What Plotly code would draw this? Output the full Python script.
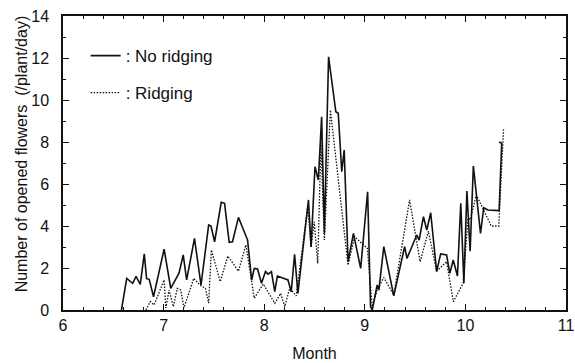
import plotly.graph_objects as go

# No ridging (solid) : month (decimal) and opened flowers per plant per day
noridge_x = [6.581, 6.633, 6.693, 6.726, 6.768, 6.808, 6.831, 6.857, 6.900, 7.005,
             7.071, 7.153, 7.195, 7.229, 7.307, 7.372, 7.448, 7.471, 7.507, 7.573,
             7.606, 7.652, 7.685, 7.744, 7.835, 7.875, 7.901, 7.934, 7.973, 8.013,
             8.039, 8.072, 8.105, 8.131, 8.236, 8.269, 8.302, 8.335, 8.440, 8.466,
             8.505, 8.538, 8.571, 8.598, 8.640, 8.712, 8.736, 8.771, 8.795, 8.834,
             8.887, 8.959, 9.028, 9.057, 9.074, 9.123, 9.140, 9.189, 9.288, 9.396,
             9.419, 9.517, 9.540, 9.583, 9.616, 9.655, 9.714, 9.754, 9.813, 9.845,
             9.879, 9.921, 9.954, 9.985, 10.015, 10.047, 10.079, 10.150, 10.182, 10.224,
             10.335, 10.361, 10.335]
noridge_y = [0.0, 1.5, 1.27, 1.6, 1.22, 2.67, 1.49, 1.46, 0.63, 2.9,
             1.03, 1.75, 2.62, 1.43, 3.41, 1.19, 4.05, 4.0, 3.25, 5.13,
             5.08, 3.22, 3.25, 4.41, 3.33, 1.43, 1.98, 1.95, 1.27, 1.83,
             1.71, 1.83, 0.87, 1.62, 1.43, 0.87, 2.65, 0.79, 5.24, 3.0,
             6.83, 6.19, 9.2, 3.65, 12.06, 9.44, 9.37, 6.59, 7.62, 2.3,
             3.65, 1.98, 5.63, 0.16, 0.0, 1.19, 0.95, 3.02, 0.67, 3.02,
             2.46, 3.57, 3.33, 4.44, 3.81, 4.63, 1.83, 2.67, 2.62, 1.75,
             2.38, 1.62, 5.08, 1.27, 5.67, 2.8, 6.86, 3.65, 4.87, 4.76,
             4.73, 7.94, 8.0]

# Ridging (dotted)
ridge_x = [6.825, 6.867, 6.906, 7.005, 7.022, 7.054, 7.097, 7.136, 7.170, 7.202,
           7.300, 7.360, 7.416, 7.448, 7.475, 7.563, 7.638, 7.744, 7.818, 7.901,
           7.990, 8.105, 8.164, 8.204, 8.253, 8.318, 8.433, 8.466, 8.497, 8.532,
           8.564, 8.598, 8.658, 8.833, 8.899, 9.025, 9.074, 9.123, 9.189, 9.288,
           9.445, 9.550, 9.632, 9.714, 9.813, 9.880, 9.977, 10.026, 10.049, 10.108,
           10.174, 10.256, 10.332, 10.379]
ridge_y = [0.0, 0.4, 0.24, 1.43, 0.1, 0.95, 0.16, 1.03, 0.95, 0.1,
           1.51, 1.19, 1.03, 0.33, 2.86, 1.35, 2.57, 1.85, 3.1, 0.56,
           1.24, 0.32, 0.79, 0.16, 1.03, 0.67, 4.92, 3.0, 4.2, 2.22,
           7.94, 3.33, 9.52, 2.14, 3.49, 2.94, 0.16, 0.95, 1.55, 0.71,
           5.24, 2.3, 3.75, 1.85, 2.3, 0.4, 1.27, 4.37, 4.3, 5.48,
           4.84, 4.0, 4.0, 8.6]

FONT = "Liberation Sans, Arial, sans-serif"
INK = "#111111"

fig = go.Figure()
fig.add_trace(go.Scatter(x=noridge_x, y=noridge_y, mode="lines", name=": No ridging",
                         legendgroup="a",
                         line=dict(color=INK, width=1.6)))
fig.add_trace(go.Scatter(x=ridge_x, y=ridge_y, mode="lines", name=": Ridging",
                         legendgroup="b",
                         line=dict(color=INK, width=1.3, dash="1.5px,1.5px")))

axis_common = dict(showline=True, linecolor=INK, linewidth=1.5, mirror="ticks",
                   ticks="inside", ticklen=6, tickwidth=1, tickcolor=INK,
                   showgrid=False, zeroline=False, automargin=False,
                   ticklabeloverflow="allow",
                   tickfont=dict(family=FONT, size=16, color=INK))

fig.update_xaxes(range=[6, 11], dtick=1, tick0=6,
                 minor=dict(dtick=0.2, ticks="inside", ticklen=3, tickcolor=INK),
                 title=dict(text="Month", font=dict(family=FONT, size=16, color=INK),
                            standoff=15),
                 **axis_common)
fig.update_yaxes(range=[0, 14], dtick=2, tick0=0, ticklabelstandoff=9,
                 minor=dict(dtick=1, ticks="inside", ticklen=3, tickcolor=INK),
                 **axis_common)

fig.update_layout(
    width=575, height=363,
    margin=dict(l=63, r=9, t=16, b=53),
    plot_bgcolor="white", paper_bgcolor="white",
    showlegend=True,
    legend=dict(x=0.045, y=0.925, xanchor="left", yanchor="top",
                bgcolor="rgba(0,0,0,0)", tracegroupgap=12,
                font=dict(family=FONT, size=17, color=INK)),
    annotations=[dict(text="Number of opened flowers  (/plant/day)",
                      xref="paper", yref="paper", x=-0.082, y=0.532,
                      xanchor="center", yanchor="middle", textangle=-90,
                      showarrow=False,
                      font=dict(family=FONT, size=16, color=INK))],
)

fig.write_html("out.html")
